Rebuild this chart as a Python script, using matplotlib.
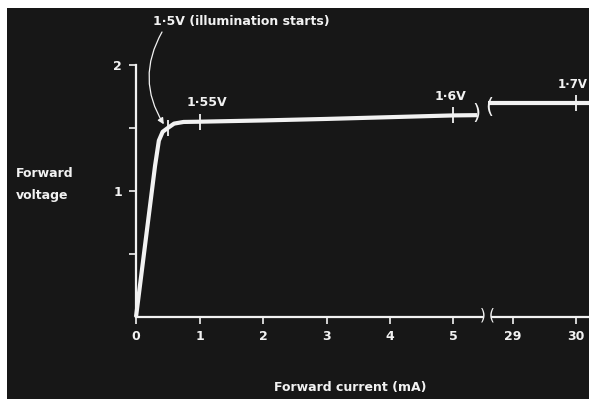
import matplotlib.pyplot as plt
from matplotlib.patches import Rectangle

# forward characteristic of the LED
current_low = [0, 0.2, 0.3, 0.36, 0.42, 0.5, 0.6, 0.75, 1, 2, 3, 4, 5, 5.37]
voltage_low = [0, 0.8, 1.2, 1.4, 1.47, 1.5, 1.535, 1.548, 1.55, 1.56, 1.572, 1.586, 1.6, 1.602]
current_high = [28.6, 30, 30.3]
voltage_high = [1.7, 1.7, 1.7]

# marked points on the curve
mark_i = [0.5, 1, 5]
mark_v = [1.5, 1.55, 1.6]
mark_labels = ['1·5V (illumination starts)', '1·55V', '1·6V']
mark_i_high = [30]
mark_v_high = [1.7]
mark_labels_high = ['1·7V']

xticks_low = [0, 1, 2, 3, 4, 5]
xticks_high = [29, 30]
yticks = [0.5, 1, 1.5, 2]
ytick_labels = ['', '1', '', '2']

W, H = 589, 399
fg = '#f2f2f2'
bg = '#171717'
font = dict(family='DejaVu Sans', fontweight='bold', color=fg)

fig = plt.figure(figsize=(W / 100, H / 100), dpi=100, facecolor='white')
fig.patches.append(Rectangle((7 / W, 0), 1, (H - 8) / H, transform=fig.transFigure,
                             facecolor=bg, edgecolor='none', zorder=-10))

x0, y0 = 136, 317
px_mA = 63.5
px_V = 126
xbreak = 482
ax1 = fig.add_axes([x0 / W, (H - y0) / H, (xbreak - x0) / W, 2 * px_V / H])
ax1.set_xlim(0, (xbreak - x0) / px_mA)
ax1.set_ylim(0, 2)

x29 = 513
px_mA2 = 63
ax2 = fig.add_axes([492 / W, (H - y0) / H, (W - 492) / W, 2 * px_V / H])
ax2.set_xlim(29 - (x29 - 492) / px_mA2, 29 + (W - x29) / px_mA2)
ax2.set_ylim(0, 2)

for ax in (ax1, ax2):
    ax.patch.set_visible(False)
    for s in ('top', 'right'):
        ax.spines[s].set_visible(False)
    ax.spines['bottom'].set_color(fg)
    ax.spines['bottom'].set_linewidth(1.6)
    ax.tick_params(axis='x', colors=fg, length=5, width=1.2, pad=4,
                   labelsize=9)
ax2.spines['left'].set_visible(False)
ax2.set_yticks([])
ax1.spines['left'].set_color(fg)
ax1.spines['left'].set_linewidth(1.6)
ax1.set_yticks(yticks)
ax1.set_yticklabels(ytick_labels)
ax1.tick_params(axis='y', colors=fg, length=5, width=1.2, pad=5, labelsize=9)
ax1.set_xticks(xticks_low)
ax1.set_xticklabels([str(v) for v in xticks_low])
ax2.set_xticks(xticks_high)
ax2.set_xticklabels([str(v) for v in xticks_high])
for ax in (ax1, ax2):
    for t in ax.get_xticklabels() + ax.get_yticklabels():
        t.set_fontweight('bold')

ax1.plot(current_low, voltage_low, color=fg, lw=3, solid_capstyle='butt',
         solid_joinstyle='round', clip_on=False)
ax2.plot(current_high, voltage_high, color=fg, lw=3, solid_capstyle='butt',
         clip_on=False)
ax1.plot(mark_i, mark_v, ls='none', marker='|', ms=11, mew=1.3, color=fg)
ax2.plot(mark_i_high, mark_v_high, ls='none', marker='|', ms=11, mew=1.3,
         color=fg, clip_on=False)

# labels on the curve
fig.text(153 / W, 1 - 22 / H, mark_labels[0], ha='left', va='center',
         fontsize=9, **font)
ax1.annotate('', xy=(mark_i[0] - 0.05, mark_v[0] + 0.02), xycoords='data',
             xytext=(162 / W, 1 - 32 / H), textcoords='figure fraction',
             arrowprops=dict(arrowstyle='-|>', color=fg, lw=0.9,
                             shrinkA=0, shrinkB=1, mutation_scale=9,
                             connectionstyle='arc3,rad=0.3'))
ax1.text(mark_i[1] - 0.2, mark_v[1] + 0.1, mark_labels[1], ha='left',
         va='bottom', fontsize=9, **font)
ax1.text(mark_i[2] - 0.05, mark_v[2] + 0.1, mark_labels[2], ha='center',
         va='bottom', fontsize=9, **font)
ax2.text(mark_i_high[0] - 0.05, mark_v_high[0] + 0.09, mark_labels_high[0],
         ha='center', va='bottom', fontsize=8.5, clip_on=False, **font)

# break marks on the curve and on the current axis
fig.text(476 / W, 1 - 113 / H, ')', ha='center', va='center', fontsize=15,
         color=fg, family='DejaVu Sans')
fig.text(489 / W, 1 - 107 / H, '(', ha='center', va='center', fontsize=15,
         color=fg, family='DejaVu Sans')
fig.text(483 / W, 1 - 315 / H, ')', ha='center', va='center', fontsize=11,
         color=fg, family='DejaVu Sans')
fig.text(492 / W, 1 - 315 / H, '(', ha='center', va='center', fontsize=11,
         color=fg, family='DejaVu Sans')

fig.text(16 / W, 1 - 185 / H, 'Forward\nvoltage', ha='left', va='center',
         fontsize=9, linespacing=1.9, **font)
fig.text(350 / W, 1 - 387 / H, 'Forward current (mA)', ha='center',
         va='center', fontsize=9, **font)

fig.savefig('out.png', dpi=100, facecolor=fig.get_facecolor())
